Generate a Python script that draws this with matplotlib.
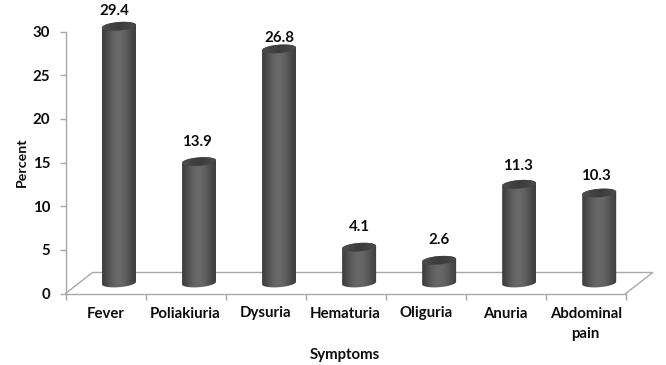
import numpy as np
import matplotlib
matplotlib.use('Agg')
import matplotlib.pyplot as plt
from matplotlib.patches import Polygon

symptoms = ['Fever', 'Poliakiuria', 'Dysuria', 'Hematuria', 'Oliguria', 'Anuria', 'Abdominal\npain']
percent = [29.4, 13.9, 26.8, 4.1, 2.6, 11.3, 10.3]
y_ticks = [0, 5, 10, 15, 20, 25, 30]
# how far each value label sits above its bar, pixels
label_dx = [-5, -2, 0, 0, 0, -1, -3]
label_dy = [15, 20, 11, 20, 20, 18, 17]

plt.rcParams['font.family'] = ['Lato', 'DejaVu Sans']
plt.rcParams['font.weight'] = 'bold'

W, H = 666, 365
GRAY = '#a8a8a8'
INK = '#0c0c0c'

px_x = len(symptoms) / 560.2
px_y = 30 / 262

fig = plt.figure(figsize=(W / 100, H / 100), dpi=100)
# plot front plane in pixels: x 65.5-625.7, y 31.5-293.5, axes run on up to y=10 for the tall bar
ax = fig.add_axes([65.5 / W, 1 - 293.5 / H, 560.2 / W, 283.5 / H])
y_top = 283.5 * px_y
ax.set_xlim(0, len(symptoms))
ax.set_ylim(0, y_top)

for s in ['top', 'right']:
    ax.spines[s].set_visible(False)
for s in ['left', 'bottom']:
    ax.spines[s].set_color(GRAY)
    ax.spines[s].set_linewidth(1.0)
ax.spines['left'].set_bounds(0, 30)

# floor of the 3d box
dx, dy = 27 * px_x, 21 * px_y
floor_x = [0, dx, len(symptoms) + dx, len(symptoms)]
floor_y = [0, dy, dy, 0]
ax.plot(floor_x, floor_y, color=GRAY, lw=1.0, clip_on=False, zorder=1)

ax.set_xticks(np.arange(len(symptoms) + 1))
ax.set_xticklabels([])
ax.set_yticks(y_ticks)
ax.tick_params(axis='x', length=4, width=1, color=GRAY)
ax.tick_params(axis='y', length=4, width=1, color=GRAY, labelsize=10.8, pad=7, labelcolor=INK)

centers = np.arange(len(symptoms)) + 0.5
for c, name in zip(centers, symptoms):
    ax.annotate(name, (c, 0), xytext=(0, -13), textcoords='offset pixels', ha='center', va='top',
                fontsize=10.8, color=INK, linespacing=1.6, annotation_clip=False)

# cylinders
base = 10.5 * px_y
offset = 13.5 * px_x
half_w = 17 * px_x
half_h = 4.2 * px_y
tilt = 1.3 * px_y
body_grad = np.array([0.25, 0.29, 0.34, 0.38, 0.4, 0.41, 0.4, 0.37, 0.33, 0.29, 0.25]).reshape(1, -1)
top_grad = np.array([0.3, 0.26, 0.24, 0.24, 0.26, 0.29]).reshape(1, -1)


def ring(xc, yc, t):
    return xc + half_w * np.cos(t), yc + half_h * np.sin(t) + tilt * np.cos(t)


for c, v, ldx, ldy in zip(centers, percent, label_dx, label_dy):
    xc = c + offset
    top = base + v
    xb, yb = ring(xc, base, np.linspace(np.pi, 2 * np.pi, 40))
    xt, yt = ring(xc, top, np.linspace(0, np.pi, 40))
    body = Polygon(np.column_stack([np.r_[xb, xt], np.r_[yb, yt]]), closed=True,
                   fc='none', ec='none', transform=ax.transData)
    ax.add_patch(body)
    im = ax.imshow(body_grad, cmap='gray', vmin=0, vmax=1, aspect='auto', interpolation='bicubic',
                   extent=(xc - half_w, xc + half_w, base - 2 * half_h, top + 2 * half_h), zorder=3)
    im.set_clip_path(body)

    xe, ye = ring(xc, top, np.linspace(0, 2 * np.pi, 60))
    cap = Polygon(np.column_stack([xe, ye]), closed=True, fc='none', ec='none', transform=ax.transData)
    ax.add_patch(cap)
    im2 = ax.imshow(top_grad, cmap='gray', vmin=0, vmax=1, aspect='auto', interpolation='bicubic',
                    extent=(xc - half_w, xc + half_w, top - 2 * half_h, top + 2 * half_h), zorder=4)
    im2.set_clip_path(cap)

    ax.annotate(f'{v:.1f}', (xc, top), xytext=(ldx, ldy), textcoords='offset pixels',
                ha='center', va='center', fontsize=10.8, color=INK, annotation_clip=False, zorder=5)

ax.set_xlim(0, len(symptoms))
ax.set_ylim(0, y_top)
ax.patch.set_alpha(0)

fig.text(22 / W, 1 - 162 / H, 'Percent', rotation=90, ha='center', va='center', fontsize=10.2, color=INK)
fig.text(345 / W, 1 - 355 / H, 'Symptoms', ha='center', va='center', fontsize=10.8, color=INK)

fig.savefig('out.png', dpi=100, facecolor='white')
